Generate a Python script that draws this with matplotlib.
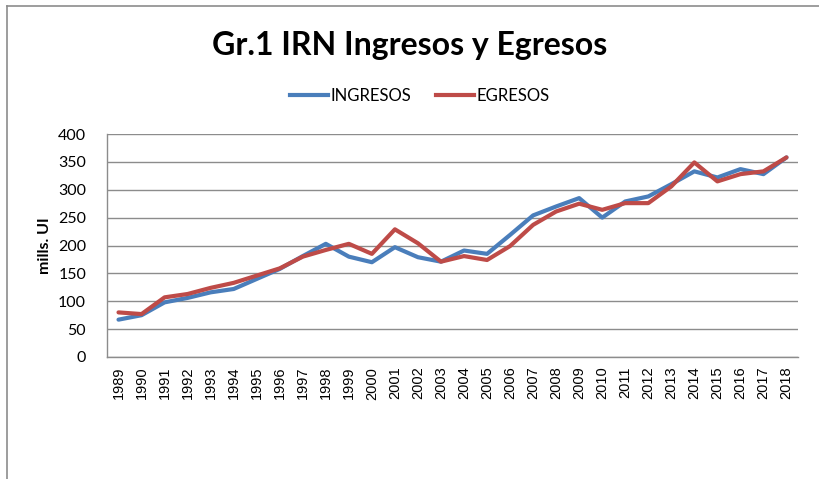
import matplotlib.pyplot as plt
from matplotlib.lines import Line2D

# --- Datos (mills. UI) ---
anios = [str(a) for a in range(1989, 2019)]
ingresos = [67, 75, 98, 106, 116, 122, 140, 158, 181, 203, 180, 170, 197, 179, 171,
            191, 185, 219, 254, 270, 285, 250, 279, 288, 310, 333, 322, 337, 328, 358]
egresos = [80, 77, 107, 113, 124, 133, 146, 159, 180, 192, 203, 185, 229, 204, 171,
           181, 174, 199, 237, 261, 275, 264, 276, 276, 306, 349, 315, 328, 333, 358]

azul = '#4a7ebb'
rojo = '#be4b48'

fig = plt.figure(figsize=(8.2, 4.79), dpi=100)
ax = fig.add_axes([107 / 820, 1 - 357 / 479, 691 / 820, 223 / 479])

x = range(len(anios))
ax.plot(x, ingresos, color=azul, lw=3, solid_capstyle='round', label='INGRESOS', zorder=3)
ax.plot(x, egresos, color=rojo, lw=3, solid_capstyle='round', label='EGRESOS', zorder=4)

ax.set_xlim(-0.5, len(anios) - 0.5)
ax.set_ylim(0, 400)
ax.set_yticks(range(0, 401, 50))
ax.set_xticks(list(x))
ax.set_xticklabels(anios, rotation=90, fontsize=10.5, family='Liberation Sans')
for lbl in ax.get_yticklabels():
    lbl.set_family('Lato')
    lbl.set_fontsize(11.5)
ax.tick_params(axis='both', length=0)
ax.tick_params(axis='y', pad=15)
ax.tick_params(axis='x', pad=7)

ax.grid(axis='y', color='#8c8c8c', lw=1)
ax.set_axisbelow(True)
for s in ['top', 'right']:
    ax.spines[s].set_visible(False)
for s in ['left', 'bottom']:
    ax.spines[s].set_color('#8c8c8c')
    ax.spines[s].set_linewidth(1)

ax.set_ylabel('mills. UI', fontsize=11.5, fontweight='bold', family='Lato', labelpad=4)

fig.text(0.5, 1 - 46 / 479, 'Gr.1 IRN Ingresos y Egresos', ha='center', va='center',
         fontsize=23, fontweight='bold', family='Lato')

handles = [Line2D([], [], color=azul, lw=3), Line2D([], [], color=rojo, lw=3)]
fig.legend(handles, ['INGRESOS', 'EGRESOS'], loc='center', bbox_to_anchor=(0.512, 1 - 96 / 479),
           ncol=2, frameon=False, prop={'family': 'Lato', 'size': 12},
           handlelength=2.3, handletextpad=0.15, columnspacing=1.5)

# borde del grafico
fig.add_artist(Line2D([7 / 820, 7 / 820], [0, 1 - 6 / 479], color='#8c8c8c', lw=1.2))
fig.add_artist(Line2D([7 / 820, 1], [1 - 6 / 479, 1 - 6 / 479], color='#8c8c8c', lw=1.2))

fig.savefig('out.png', dpi=100)
